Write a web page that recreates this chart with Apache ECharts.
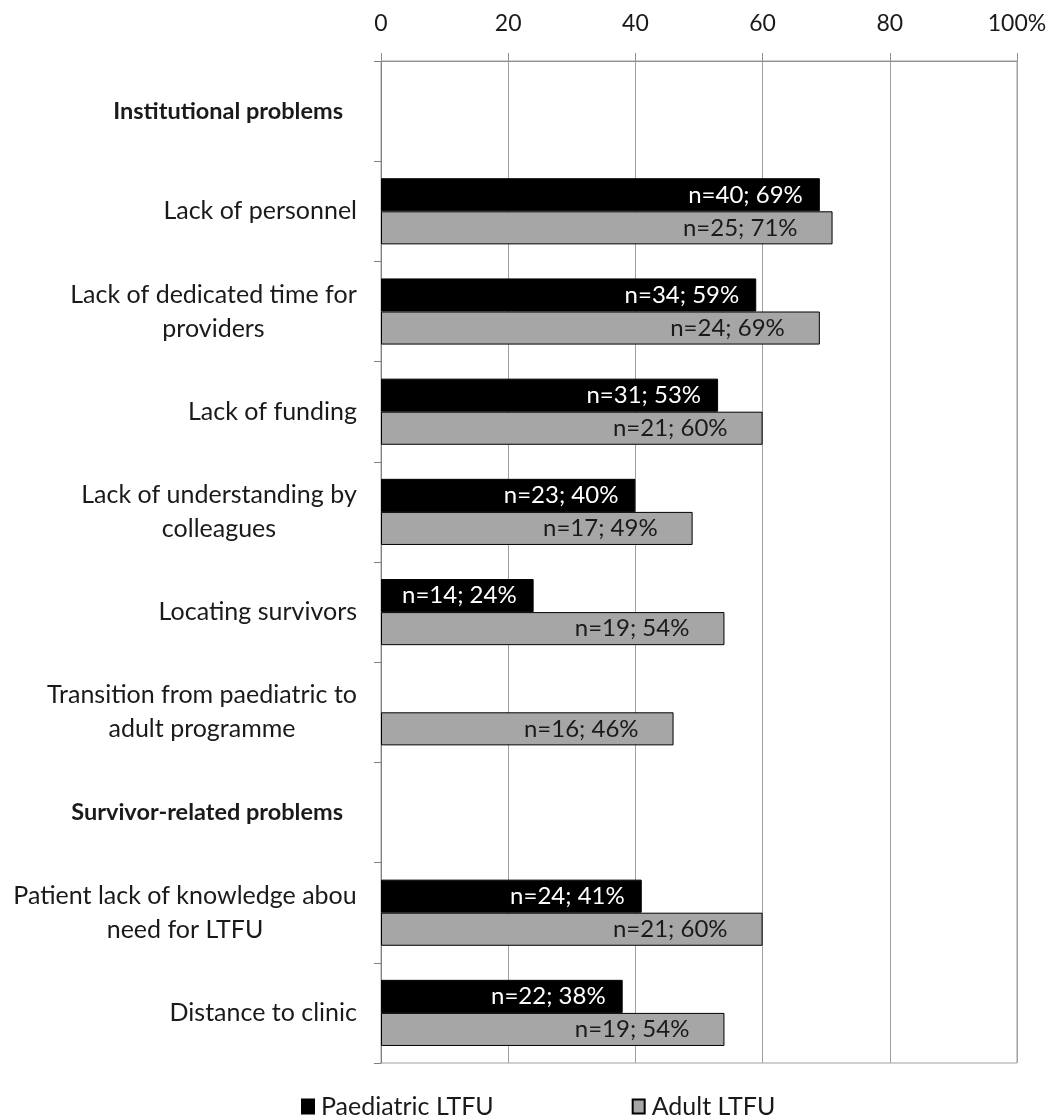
<!DOCTYPE html>
<html><head><meta charset="utf-8">
<script src="https://cdn.jsdelivr.net/npm/echarts@6/dist/echarts.min.js"></script>
<style>html,body{margin:0;padding:0;background:#fff}#c{width:1059px;height:1119px}</style>
</head><body><div id="c"></div>
<script>
const categories = ['Institutional problems','Lack of personnel','Lack of dedicated time for\nproviders','Lack of funding','Lack of understanding by\ncolleagues','Locating survivors','Transition from paediatric to\nadult programme','Survivor-related problems','Patient lack of knowledge abou\nneed for LTFU','Distance to clinic'];
const headerCategories = ['Institutional problems','Survivor-related problems'];
const paediatricPct = [null,69,59,53,40,24,null,null,41,38];
const paediatricN = [null,40,34,31,23,14,null,null,24,22];
const adultPct = [null,71,69,60,49,54,46,null,60,54];
const adultN = [null,25,24,21,17,19,16,null,21,19];
const xTicks = [0,20,40,60,80,100];
const seriesNames = ['Paediatric LTFU','Adult LTFU'];

const FONT = 'Lato';
const CAT_SIZE = 25;
const cv = document.createElement('canvas').getContext('2d');
cv.font = CAT_SIZE + 'px ' + FONT;
const rich = {
  n: {fontFamily: FONT, fontSize: CAT_SIZE, color: '#1a1a1a', lineHeight: 34},
  b: {fontFamily: FONT, fontSize: 23.5, fontWeight: 'bold', color: '#1a1a1a', padding: [0, 14, 0, 0]}
};
categories.forEach((c, i) => {
  const lines = c.split('\n');
  if (lines.length > 1) {
    const w = Math.ceil(Math.max(...lines.map(l => cv.measureText(l).width)));
    rich['w' + i] = {fontFamily: FONT, fontSize: CAT_SIZE, color: '#1a1a1a', lineHeight: 34, width: w, align: 'center'};
  }
});

const chart = echarts.init(document.getElementById('c'), null, {renderer: 'canvas'});
chart.setOption({
  animation: false,
  backgroundColor: '#fff',
  grid: {left: 381, right: 42, top: 61, bottom: 56, show: true, borderColor: '#a0a0a0', borderWidth: 1, outerBoundsMode: 'none', containLabel: false},
  xAxis: {
    type: 'value', position: 'top', min: 0, max: 100, interval: 20,
    axisLine: {show: true, lineStyle: {color: '#909090'}},
    axisTick: {show: true, length: 8, lineStyle: {color: '#909090'}},
    splitLine: {show: true, lineStyle: {color: '#a0a0a0', width: 1}},
    axisLabel: {
      margin: 26, fontFamily: FONT, fontSize: 23, color: '#1a1a1a',
      formatter: v => (xTicks.indexOf(v) === xTicks.length - 1 ? v + '%' : String(v))
    }
  },
  yAxis: {
    type: 'category', inverse: true, data: categories,
    axisLine: {show: true, lineStyle: {color: '#808080'}},
    axisTick: {show: true, length: 7, lineStyle: {color: '#808080'}},
    axisLabel: {
      margin: 24, rich: rich,
      formatter: (v, i) => {
        if (headerCategories.indexOf(v) >= 0) return '{b|' + v + '}';
        const lines = v.split('\n');
        if (lines.length > 1) return lines.map(l => '{w' + i + '|' + l + '}').join('\n');
        return '{n|' + v + '}';
      }
    }
  },
  legend: {
    data: seriesNames, top: 1089, left: 296, itemGap: 138, itemWidth: 12, itemHeight: 14,
    icon: 'rect',
    textStyle: {fontFamily: FONT, fontSize: 25, color: '#1a1a1a', padding: [0, 0, 0, 2]}
  },
  series: [
    {
      name: seriesNames[0], type: 'bar', data: paediatricPct,
      barGap: '0%', barCategoryGap: '34%',
      itemStyle: {color: '#000000', borderColor: '#000', borderWidth: 1},
      label: {
        show: true, position: 'insideRight', distance: 17, fontFamily: FONT, fontSize: 24, color: '#ffffff',
        formatter: p => 'n=' + paediatricN[p.dataIndex] + '; ' + p.value + '%'
      }
    },
    {
      name: seriesNames[1], type: 'bar', data: adultPct,
      barGap: '0%', barCategoryGap: '34%',
      itemStyle: {color: '#a6a6a6', borderColor: '#000', borderWidth: 1},
      label: {
        show: true, position: 'insideRight', distance: 35, fontFamily: FONT, fontSize: 24, color: '#1a1a1a',
        formatter: p => 'n=' + adultN[p.dataIndex] + '; ' + p.value + '%'
      }
    }
  ]
});
</script></body></html>
